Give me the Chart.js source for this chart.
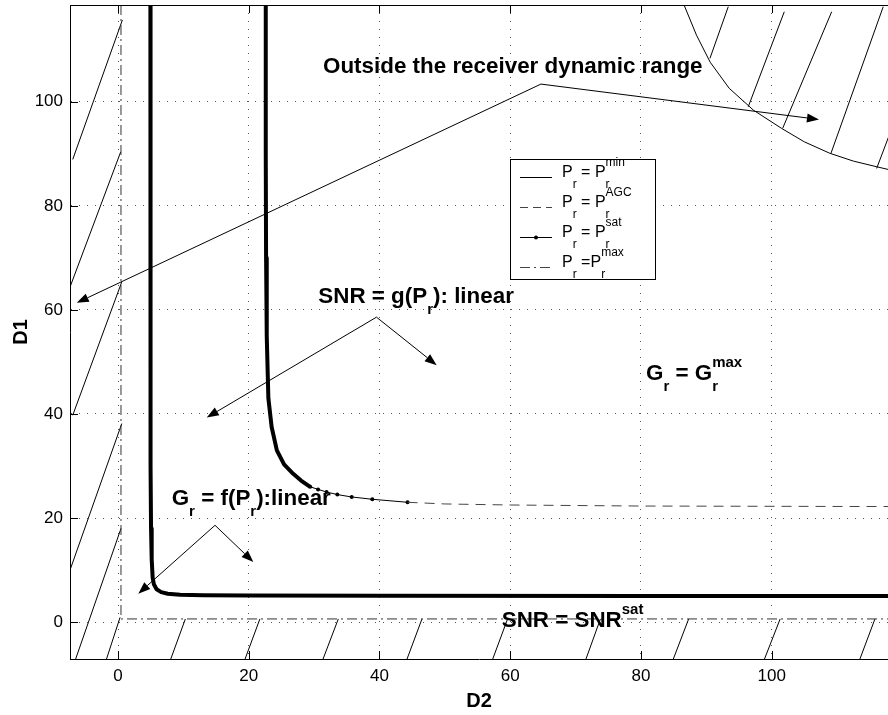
<!DOCTYPE html>
<html lang="en">
<head>
<meta charset="UTF-8">
<title>Receiver operating regions (D1 vs D2)</title>
<script src="https://cdn.jsdelivr.net/npm/chart.js"></script>
<style>
  html, body { margin: 0; padding: 0; background: #fff; }
  #wrap { width: 888px; height: 715px; }
</style>
</head>
<body>
<div id="wrap"><canvas id="regionChart" width="888" height="715"></canvas></div>
<script>
// ---- data (axis units) ----
const xTicks = [0, 20, 40, 60, 80, 100];
const yTicks = [0, 20, 40, 60, 80, 100];

// P_r = P_r^min : arc in the upper right corner
const minX = [86.6, 88.5, 90.6, 93.5, 97.2, 101.5, 105, 108.9, 112.5, 116.1, 117.8];
const minY = [118.6, 112.8, 107.6, 102.6, 98.4, 94.9, 92.3, 90.1, 88.6, 87.5, 87.0];

// P_r = P_r^AGC : dashed tail
const agcX = [44.3, 50, 60, 80, 117.8];
const agcY = [23.02, 22.7, 22.5, 22.3, 22.2];

// P_r = P_r^sat : inner L-shaped curve (dense markers)
const satInnerX = [4.95, 4.95, 5.0, 5.05, 5.15, 5.3, 5.5, 5.9, 6.6, 7.6, 9.5, 13, 20, 40, 80, 117.8];
const satInnerY = [118.6, 60, 30, 18, 12, 8.5, 7.2, 6.3, 5.75, 5.45, 5.27, 5.17, 5.1, 5.05, 5.02, 5.0];

// P_r = P_r^sat : outer curve, dense part then sparse markers
const satOuterX = [22.6, 22.6, 22.65, 22.75, 23.0, 23.5, 24.3, 25.4, 26.8, 28, 29.4];
const satOuterY = [118.6, 90, 70, 55, 43, 37.5, 33, 30.3, 28.5, 27.2, 26.0];
const satTailX = [29.4, 30.6, 31.9, 33.55, 35.75, 38.9, 44.3];
const satTailY = [26.0, 25.5, 25.0, 24.5, 24.04, 23.6, 23.02];

// P_r = P_r^max : dash-dot L
const maxX = [0.45, 0.45, 117.8];
const maxY = [118.6, 0.6, 0.6];

// hatching segments [x0, y0, x1, y1]
const hatchSegments = [
  [-6.93, 88.92, 0.66, 115.71], [-7.34, 64.42, 0.41, 90.38], [-6.93, 39.75, 0.57, 65.38],
  [-7.34, 10.02, 0.57, 38.15], [-6.93, -8.71, 0.46, 18.02],
  [-1.84, -7.4, 0.31, 0.9], [8.06, -7.12, 10.3, 0.6], [19.43, -7.12, 21.7, 0.6],
  [31.36, -7.12, 33.7, 0.6], [44.21, -7.12, 46.5, 0.6], [57.32, -7.12, 59.6, 0.6],
  [71.59, -7.12, 73.8, 0.6], [84.95, -7.12, 87.3, 0.6], [98.9, -7.12, 101.3, 0.6],
  [113.5, -7.12, 115.8, 0.6],
  [90.56, 108.35, 93.36, 118.27], [96.42, 99.04, 101.93, 117.3], [101.68, 94.88, 109.18, 117.3],
  [109.07, 90.08, 117.07, 118.27], [116.06, 87.19, 118.6, 95.6]
];

// annotation arrows [fromX, fromY, toX, toY]
const arrows = [
  [64.7, 103.4, -6.32, 61.35], [64.7, 103.4, 107.24, 96.6],
  [39.54, 58.6, 13.57, 39.3], [39.54, 58.6, 48.75, 49.37],
  [14.84, 18.6, 3.1, 5.46], [14.84, 18.6, 20.7, 11.54]
];

// annotation texts (tex-like: _ sub, ^ sup), anchored at left/baseline
const noteTexts = ['Outside the receiver dynamic range', 'SNR = g(P_r): linear', 'G_r = G_r^{max}', 'G_r = f(P_r):linear', 'SNR = SNR^{sat}'];
const noteX = [31.36, 30.64, 80.77, 8.21, 58.70];
const noteY = [105.58, 61.23, 46.48, 22.44, -0.96];

const legendLabels = ['P_r = P_r^{min}', 'P_r = P_r^{AGC}', 'P_r = P_r^{sat}', 'P_r =P_r^{max}'];

// ---- helpers ----
const FONT = '"Liberation Sans", Arial, Helvetica, sans-serif';
const pts = (xs, ys) => xs.map((x, i) => ({ x: x, y: ys[i] }));

function parseTex(str) {
  const out = [];
  let i = 0, buf = '';
  while (i < str.length) {
    const c = str[i];
    if (c === '_' || c === '^') {
      if (buf) { out.push({ kind: 'n', text: buf }); buf = ''; }
      let t;
      if (str[i + 1] === '{') {
        const j = str.indexOf('}', i);
        t = str.slice(i + 2, j);
        i = j + 1;
      } else {
        t = str[i + 1];
        i += 2;
      }
      out.push({ kind: c === '_' ? 'sub' : 'sup', text: t });
    } else {
      buf += c;
      i++;
    }
  }
  if (buf) out.push({ kind: 'n', text: buf });
  return out;
}

function drawTex(ctx, str, x, y, f) {
  const parts = parseTex(str);
  let cx = x;
  for (let k = 0; k < parts.length; k++) {
    const p = parts[k];
    if (p.kind === 'n') {
      ctx.font = f.main;
      ctx.fillText(p.text, cx, y);
      cx += ctx.measureText(p.text).width;
      continue;
    }
    ctx.font = f.small;
    ctx.fillText(p.text, cx, y + (p.kind === 'sub' ? f.subDy : f.supDy));
    let w = ctx.measureText(p.text).width;
    const nx = parts[k + 1];
    if (nx && nx.kind !== 'n' && nx.kind !== p.kind) {
      ctx.fillText(nx.text, cx, y + (nx.kind === 'sub' ? f.subDy : f.supDy));
      w = Math.max(w, ctx.measureText(nx.text).width);
      k++;
    }
    cx += w;
  }
}

function drawArrow(ctx, x0, y0, x1, y1) {
  const a = Math.atan2(y1 - y0, x1 - x0);
  const L = 12, W = 4.5;
  const bx = x1 - L * Math.cos(a), by = y1 - L * Math.sin(a);
  ctx.beginPath();
  ctx.moveTo(x0, y0);
  ctx.lineTo(bx, by);
  ctx.stroke();
  ctx.beginPath();
  ctx.moveTo(x1, y1);
  ctx.lineTo(bx + W * Math.sin(a), by - W * Math.cos(a));
  ctx.lineTo(bx - W * Math.sin(a), by + W * Math.cos(a));
  ctx.closePath();
  ctx.fill();
}

// hatching goes under the curves, clipped to the plot area
const hatchPlugin = {
  id: 'hatch',
  beforeDatasetsDraw(chart) {
    const { ctx, chartArea: a, scales: { x, y } } = chart;
    ctx.save();
    ctx.beginPath();
    ctx.rect(a.left, a.top, a.right - a.left, a.bottom - a.top);
    ctx.clip();
    ctx.strokeStyle = '#000';
    ctx.lineWidth = 1;
    hatchSegments.forEach(s => {
      ctx.beginPath();
      ctx.moveTo(x.getPixelForValue(s[0]), y.getPixelForValue(s[1]));
      ctx.lineTo(x.getPixelForValue(s[2]), y.getPixelForValue(s[3]));
      ctx.stroke();
    });
    ctx.restore();
  }
};

// MATLAB-ish decorations: inward ticks, top box edge, notes, legend, axis titles
const overlayPlugin = {
  id: 'overlay',
  afterDraw(chart) {
    const { ctx, chartArea: a, scales: { x, y } } = chart;
    ctx.save();
    ctx.strokeStyle = '#000';
    ctx.fillStyle = '#000';
    ctx.lineWidth = 1;

    // box top edge + inward ticks
    ctx.beginPath();
    ctx.moveTo(a.left, a.top + 0.5);
    ctx.lineTo(a.right, a.top + 0.5);
    xTicks.forEach(v => {
      const px = Math.round(x.getPixelForValue(v)) + 0.5;
      ctx.moveTo(px, a.bottom); ctx.lineTo(px, a.bottom - 8);
      ctx.moveTo(px, a.top); ctx.lineTo(px, a.top + 8);
    });
    yTicks.forEach(v => {
      const py = Math.round(y.getPixelForValue(v)) + 0.5;
      ctx.moveTo(a.left, py); ctx.lineTo(a.left + 8, py);
    });
    ctx.stroke();

    // arrows
    arrows.forEach(r => drawArrow(ctx,
      x.getPixelForValue(r[0]), y.getPixelForValue(r[1]),
      x.getPixelForValue(r[2]), y.getPixelForValue(r[3])));

    // notes
    ctx.textBaseline = 'alphabetic';
    ctx.textAlign = 'left';
    const noteFont = { main: 'bold 22.4px ' + FONT, small: 'bold 15px ' + FONT, subDy: 11, supDy: -13 };
    noteTexts.forEach((t, i) => drawTex(ctx, t, x.getPixelForValue(noteX[i]), y.getPixelForValue(noteY[i]), noteFont));

    // legend box
    const lx = a.left + 440, ly = a.top + 154, lw = 145, lh = 120;
    ctx.fillStyle = '#fff';
    ctx.fillRect(lx, ly, lw, lh);
    ctx.strokeStyle = '#000';
    ctx.strokeRect(lx + 0.5, ly + 0.5, lw, lh);
    ctx.fillStyle = '#000';
    const legFont = { main: '16px ' + FONT, small: '12px ' + FONT, subDy: 11, supDy: -11 };
    const styles = [[], [8, 5], [], [10, 4, 2, 4]];
    legendLabels.forEach((t, i) => {
      const base = ly + 18 + i * 30;
      ctx.save();
      ctx.strokeStyle = i === 1 || i === 3 ? '#444' : '#000';
      ctx.setLineDash(styles[i]);
      ctx.beginPath();
      ctx.moveTo(lx + 10, base + 0.5);
      ctx.lineTo(lx + 42, base + 0.5);
      ctx.stroke();
      ctx.restore();
      if (i === 2) {
        ctx.beginPath();
        ctx.arc(lx + 26, base + 0.5, 2, 0, Math.PI * 2);
        ctx.fill();
      }
      drawTex(ctx, t, lx + 52, base, legFont);
    });

    // axis titles
    ctx.font = 'bold 20px ' + FONT;
    ctx.textAlign = 'center';
    ctx.textBaseline = 'middle';
    ctx.fillText('D2', (a.left + a.right) / 2, 701);
    ctx.save();
    ctx.translate(21, (a.top + a.bottom) / 2);
    ctx.rotate(-Math.PI / 2);
    ctx.fillText('D1', 0, 0);
    ctx.restore();

    ctx.restore();
  }
};

const gridStyle = { color: '#555', lineWidth: 1, drawTicks: false };
const borderStyle = { display: true, color: '#000', width: 1, dash: [1, 7] };

new Chart(document.getElementById('regionChart'), {
  type: 'scatter',
  data: {
    datasets: [
      { label: 'Pr = Pr^min', data: pts(minX, minY), showLine: true, borderColor: '#000', borderWidth: 1, pointRadius: 0 },
      { label: 'Pr = Pr^AGC', data: pts(agcX, agcY), showLine: true, borderColor: '#444', borderWidth: 1, borderDash: [10, 7], pointRadius: 0 },
      { label: 'Pr = Pr^sat (inner)', data: pts(satInnerX, satInnerY), showLine: true, borderColor: '#000', borderWidth: 4, borderJoinStyle: 'round', pointRadius: 0 },
      { label: 'Pr = Pr^sat (outer)', data: pts(satOuterX, satOuterY), showLine: true, borderColor: '#000', borderWidth: 4, borderJoinStyle: 'round', pointRadius: 0 },
      { label: 'Pr = Pr^sat (tail)', data: pts(satTailX, satTailY), showLine: true, borderColor: '#000', borderWidth: 1, pointRadius: 2, pointBackgroundColor: '#000', pointBorderWidth: 0 },
      { label: 'Pr = Pr^max', data: pts(maxX, maxY), showLine: true, borderColor: '#333', borderWidth: 1, borderDash: [10, 4, 2, 4], pointRadius: 0 }
    ]
  },
  options: {
    responsive: false,
    animation: false,
    events: [],
    layout: { autoPadding: false, padding: { top: 5, right: 0, bottom: 0, left: 0 } },
    plugins: { legend: { display: false }, tooltip: { enabled: false } },
    scales: {
      x: {
        type: 'linear',
        min: -7.35,
        max: 117.8,
        grid: gridStyle,
        border: borderStyle,
        ticks: { color: '#000', font: { family: FONT, size: 17 }, padding: 7 },
        afterBuildTicks: s => { s.ticks = xTicks.map(v => ({ value: v })); },
        afterFit: s => { s.height = 56; s.paddingLeft = 0; s.paddingRight = 0; }
      },
      y: {
        type: 'linear',
        min: -7.1,
        max: 118.6,
        grid: gridStyle,
        border: borderStyle,
        ticks: { color: '#000', font: { family: FONT, size: 17 }, padding: 7 },
        afterBuildTicks: s => { s.ticks = yTicks.map(v => ({ value: v })); },
        afterFit: s => { s.width = 70; s.paddingTop = 0; s.paddingBottom = 0; }
      }
    }
  },
  plugins: [hatchPlugin, overlayPlugin]
});
</script>
</body>
</html>
